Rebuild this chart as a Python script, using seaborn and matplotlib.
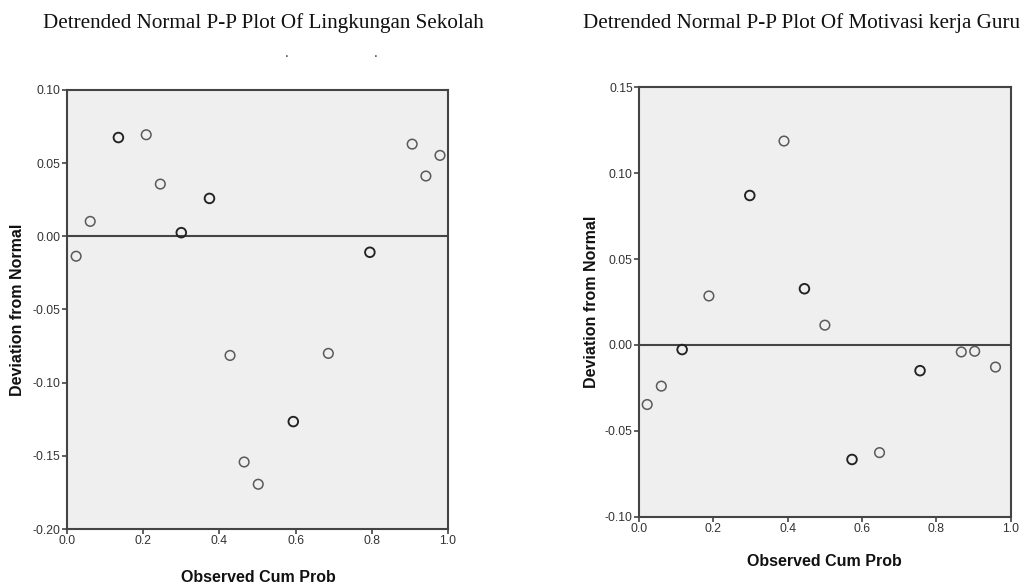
import matplotlib
matplotlib.use("Agg")
import matplotlib.pyplot as plt
import seaborn as sns
import pandas as pd

# ---- data ----
left_title = "Detrended Normal P-P Plot Of Lingkungan Sekolah"
right_title = "Detrended Normal P-P Plot Of Motivasi kerja Guru"
x_label = "Observed Cum Prob"
y_label = "Deviation from Normal"

left_x = [0.024, 0.061, 0.135, 0.208, 0.245, 0.300, 0.374, 0.428, 0.465, 0.502,
          0.594, 0.686, 0.795, 0.906, 0.942, 0.979]
left_y = [-0.0136, 0.0102, 0.0675, 0.0694, 0.0357, 0.0025, 0.0259, -0.0814, -0.1542,
          -0.1694, -0.1266, -0.0800, -0.0109, 0.0630, 0.0412, 0.0553]
left_n = [1, 1, 2, 1, 1, 2, 2, 1, 1, 1, 2, 1, 2, 1, 1, 1]

right_x = [0.022, 0.060, 0.116, 0.188, 0.298, 0.390, 0.445, 0.500, 0.573, 0.647,
           0.756, 0.867, 0.903, 0.959]
right_y = [-0.0347, -0.0240, -0.0027, 0.0285, 0.0870, 0.1187, 0.0327, 0.0115,
           -0.0667, -0.0627, -0.0150, -0.0041, -0.0037, -0.0129]
right_n = [1, 1, 2, 1, 2, 1, 2, 1, 2, 1, 2, 1, 1, 1]

x_ticks = [0.0, 0.2, 0.4, 0.6, 0.8, 1.0]
left_yticks = [-0.20, -0.15, -0.10, -0.05, 0.00, 0.05, 0.10]
right_yticks = [-0.10, -0.05, 0.00, 0.05, 0.10, 0.15]

sns.set_theme(style="white")
plt.rcParams["font.family"] = ["Liberation Sans", "DejaVu Sans"]

fig = plt.figure(figsize=(10.32, 5.85), dpi=100)
ax_l = fig.add_axes([0.0649, 0.0957, 0.3692, 0.7505])
ax_r = fig.add_axes([0.6192, 0.1168, 0.3602, 0.7340])

spine_c = "#444444"


def draw(ax, xs, ys, ns, yticks):
    df = pd.DataFrame({"x": xs, "y": ys, "n": ns})
    ax.set_facecolor("#efefef")
    ax.axhline(0, color="#444444", lw=1.5, zorder=1)
    single = df[df["n"] == 1]
    multi = df[df["n"] > 1]
    sns.scatterplot(data=single, x="x", y="y", ax=ax, marker="o", s=48,
                    facecolors="none", edgecolor="#5a5a5a", linewidth=1.1, zorder=3)
    sns.scatterplot(data=multi, x="x", y="y", ax=ax, marker="o", s=48,
                    facecolors="none", edgecolor="#222222", linewidth=1.35, zorder=3)
    ax.set_xlim(0, 1)
    ax.set_ylim(yticks[0], yticks[-1])
    ax.set_xticks(x_ticks)
    ax.set_xticklabels([f"{t:.1f}" for t in x_ticks])
    ax.set_yticks(yticks)
    ax.set_yticklabels([f"{t:.2f}" for t in yticks])
    ax.set_xlabel("")
    ax.set_ylabel("")
    for sp in ax.spines.values():
        sp.set_color(spine_c)
        sp.set_linewidth(1.5)
    ax.tick_params(axis="both", which="major", direction="out", length=3.5, width=1.2,
                   color=spine_c, labelsize=8.8, labelcolor="#333333", pad=1,
                   left=True, bottom=True)


draw(ax_l, left_x, left_y, left_n, left_yticks)
draw(ax_r, right_x, right_y, right_n, right_yticks)

title_font = dict(family=["Liberation Serif", "DejaVu Serif"], size=15.2, color="#111111")
fig.text(263 / 1032, 1 - 28 / 585, left_title, ha="center", va="baseline", **title_font)
fig.text(802 / 1032, 1 - 28 / 585, right_title, ha="center", va="baseline", **title_font)
fig.text(287 / 1032, 1 - 53 / 585, ".", ha="center", va="center", size=10, color="#333333")
fig.text(376 / 1032, 1 - 53 / 585, ".", ha="center", va="center", size=10, color="#333333")

lab = dict(size=11.5, weight="bold", color="#111111")
fig.text(258 / 1032, 1 - 577 / 585, x_label, ha="center", va="center", **lab)
fig.text(824 / 1032, 1 - 562 / 585, x_label, ha="center", va="center", **lab)
fig.text(18 / 1032, 1 - 310 / 585, y_label, ha="center", va="center", rotation=90, **lab)
fig.text(592 / 1032, 1 - 302 / 585, y_label, ha="center", va="center", rotation=90, **lab)

fig.savefig("out.png", dpi=100, facecolor="white")
